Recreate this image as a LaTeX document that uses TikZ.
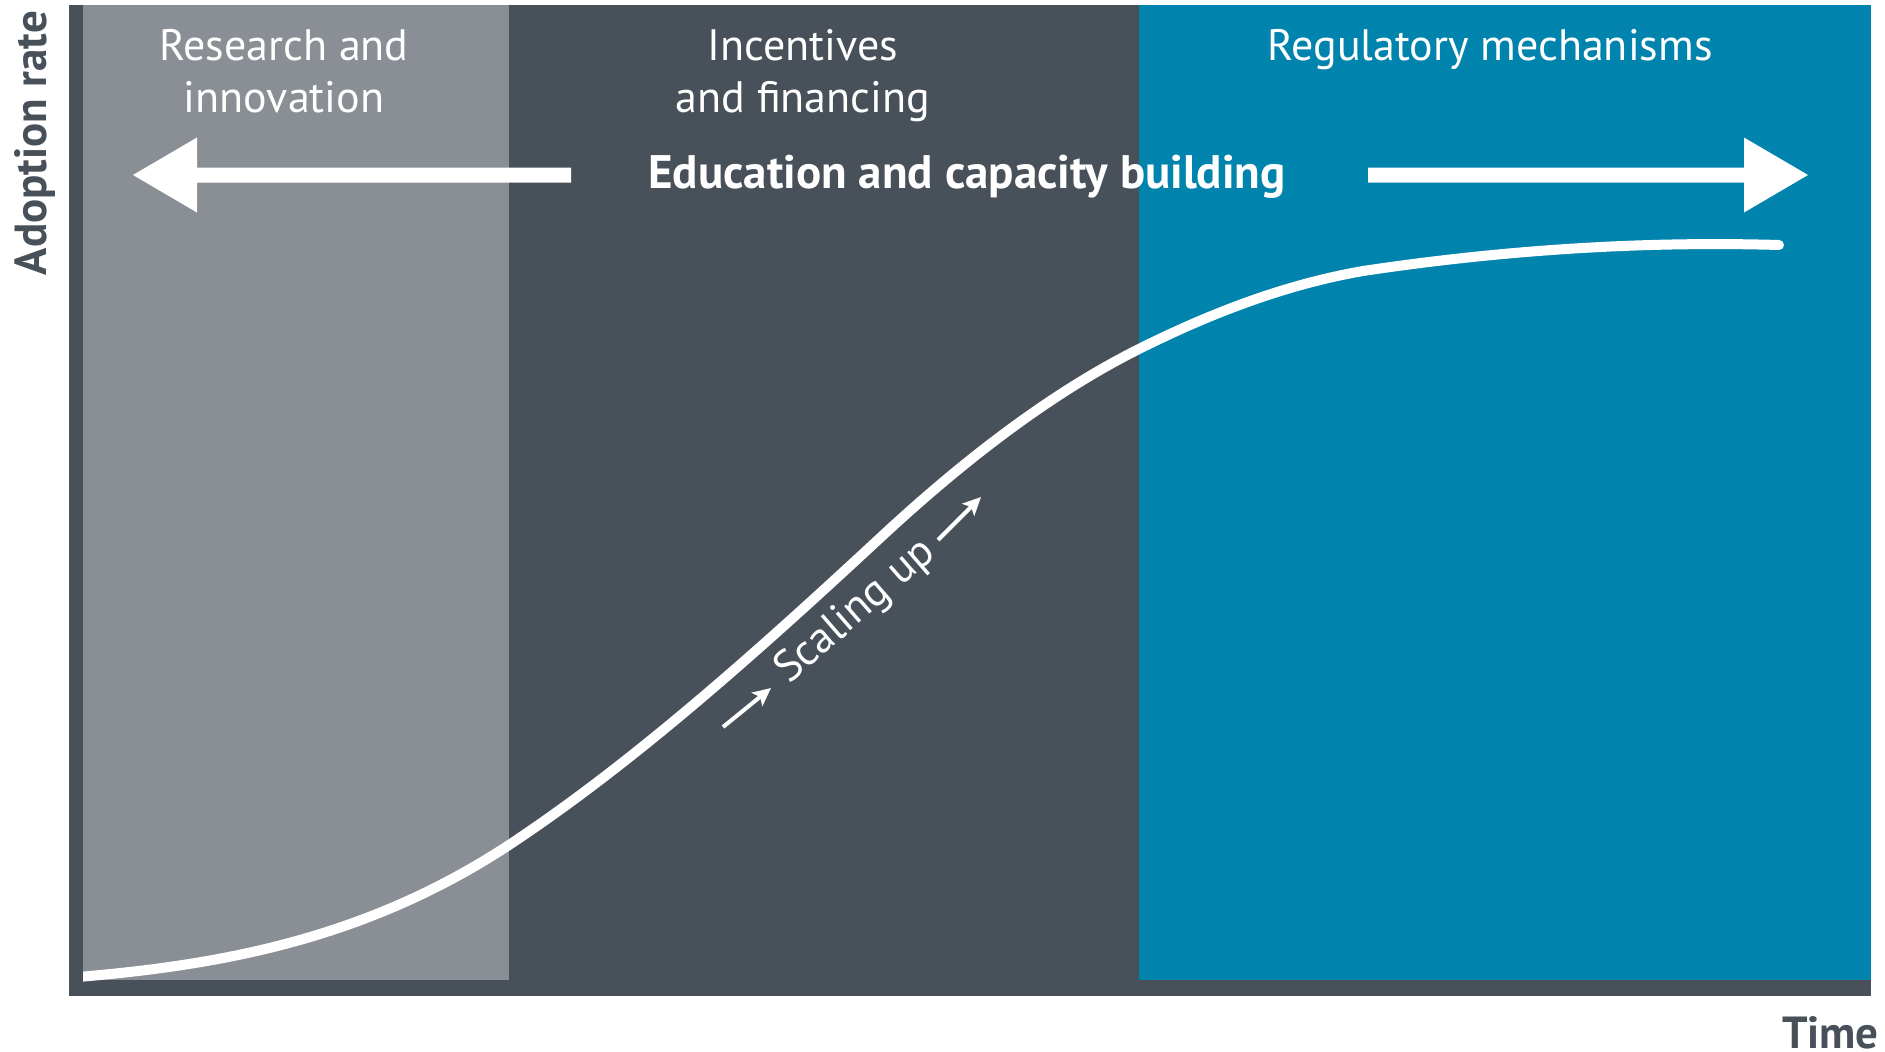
\documentclass[tikz,border=0pt]{standalone}
\usepackage{fontspec}
\setmainfont{PT Sans}
\usetikzlibrary{arrows.meta}
\definecolor{lightpanel}{RGB}{137,143,149}
\definecolor{slate}{RGB}{72,81,90}
\definecolor{tealpanel}{RGB}{0,131,173}
\tikzset{
  head/.style={text=white, font=\fontsize{44}{52}\selectfont, inner sep=0pt, anchor=base},
  boldhead/.style={text=white, font=\fontsize{47}{52}\selectfont\bfseries, inner sep=0pt, anchor=base},
  axislabel/.style={text=slate, font=\fontsize{45}{52}\selectfont\bfseries, inner sep=0pt},
  bigarrow/.style={fill=white},
  curve/.style={draw=white, line width=10pt, line cap=round},
  smallarrow/.style={draw=white, line width=4pt, -{Stealth[length=18pt,width=17pt,inset=4pt]}}
}
\begin{document}
\begin{tikzpicture}[x=1pt,y=-1pt]
\useasboundingbox (0,0) rectangle (1885,1052);
% panels
\fill[slate] (69,5) rectangle (1871,996);
\fill[lightpanel] (83,5) rectangle (509,980);
\fill[tealpanel] (1139,5) rectangle (1871,980);
% headings
\node[head] (r1) at (284,60) {Research and};
\node[head] (r2) at (284,112) {innovation};
\node[head] (i1) at (803,60) {Incentives};
\node[head] (i2) at (803,112) {and financing};
\node[head] (g1) at (1490,60) {Regulatory mechanisms};
\node[boldhead] (edu) at (967,188) {Education and capacity building};
% big arrows
\fill[bigarrow] (133,175) -- (197,137.5) -- (197,167.5) -- (571,167.5) -- (571,182.5) -- (197,182.5) -- (197,212.5) -- cycle;
\fill[bigarrow] (1808,175) -- (1744,137.5) -- (1744,167.5) -- (1368,167.5) -- (1368,182.5) -- (1744,182.5) -- (1744,212.5) -- cycle;
% adoption curve
\begin{scope}
\clip (83,0) rectangle (1885,1052);
\draw[curve] (78,977) .. controls (221,965) and (366,939) .. (509,845)
  .. controls (633,763) and (756,653) .. (880,538)
  .. controls (966,458) and (1053,392) .. (1139,349)
  .. controls (1214,311.5) and (1288,284) .. (1363,271)
  .. controls (1503,250) and (1642,241) .. (1779,245);
\end{scope}
% scaling up
\coordinate (a1s) at (723,727);
\coordinate (a1e) at (771,688);
\coordinate (a2s) at (938,540);
\coordinate (a2e) at (981,497);
\draw[smallarrow] (a1s) -- (a1e);
\draw[smallarrow] (a2s) -- (a2e);
\node[head, anchor=center, rotate=41] (sc) at (856,612) {Scaling up};
% axis labels
\node[axislabel, rotate=90, anchor=base] (yl) at (46,143) {Adoption rate};
\node[axislabel, anchor=base east] (xl) at (1879,1048) {Time};
\end{tikzpicture}
\end{document}
